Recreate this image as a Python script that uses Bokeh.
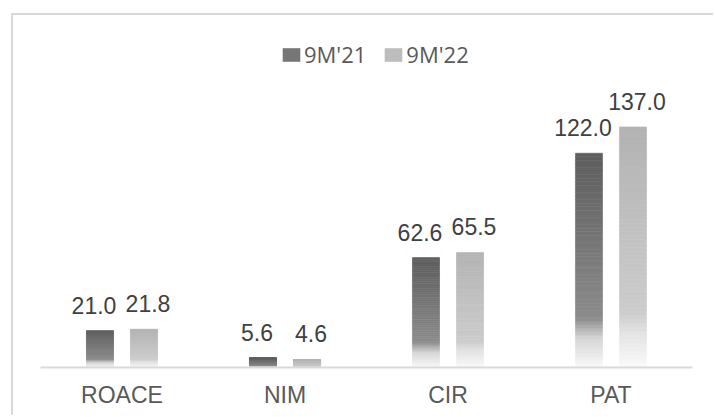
from bokeh.plotting import figure
from bokeh.models import (ColumnDataSource, FixedTicker, Range1d, Legend, LegendItem,
                          LabelSet)
from bokeh.core.properties import value
from bokeh.embed import file_html
from bokeh.resources import INLINE

categories = ["ROACE", "NIM", "CIR", "PAT"]
series_names = ["9M'21", "9M'22"]
values_21 = [21.0, 5.6, 62.6, 122.0]
values_22 = [21.8, 4.6, 65.5, 137.0]
label_21 = ["21.0", "5.6", "62.6", "122.0"]
label_22 = ["21.8", "4.6", "65.5", "137.0"]

# gradient stops: (fraction from top, grey level)
dark_stops = [(0.0, 94), (0.77, 140), (0.86, 212), (1.0, 250)]
light_stops = [(0.0, 179), (0.77, 204), (0.86, 228), (1.0, 250)]

def grey_at(stops, t):
    for (t0, g0), (t1, g1) in zip(stops[:-1], stops[1:]):
        if t <= t1:
            f = (t - t0) / (t1 - t0) if t1 > t0 else 0
            g = int(round(g0 + f * (g1 - g0)))
            return "#%02x%02x%02x" % (g, g, g)
    g = stops[-1][1]
    return "#%02x%02x%02x" % (g, g, g)

N = 60
OFF = 0.135
W = 0.166

def slices(vals, offset, stops):
    left, right, bottom, top, color = [], [], [], [], []
    for i, v in enumerate(vals):
        cx = i + 0.5 + offset
        for k in range(N):
            b = v * k / N
            t = v * (k + 1) / N
            frac_from_top = 1 - (k + 0.5) / N
            left.append(cx - W / 2)
            right.append(cx + W / 2)
            bottom.append(b)
            top.append(t)
            color.append(grey_at(stops, frac_from_top))
    return dict(left=left, right=right, bottom=bottom, top=top, color=color)

p = figure(width=702, height=402, output_backend="svg", toolbar_location=None,
           x_range=Range1d(0, 4), y_range=Range1d(0, 186.2),
           min_border_left=27, min_border_right=23, min_border_top=25,
           min_border_bottom=50, background_fill_color="white",
           border_fill_color="white", outline_line_color=None)
p.margin = (13, 0, 0, 11)
p.styles = {"border-left": "2px solid #d9d9d9", "border-top": "2px solid #d9d9d9"}

for vals, off, stops in [(values_21, -OFF, dark_stops), (values_22, OFF, light_stops)]:
    src = ColumnDataSource(slices(vals, off, stops))
    p.quad(left="left", right="right", bottom="bottom", top="top", source=src,
           fill_color="color", line_color="color", line_width=0.6)

# legend proxies (not visible in the plot area)
nan = float("nan")
r1 = p.quad(left=[nan], right=[nan], bottom=[nan], top=[nan], fill_color="#767676", line_color=None)
r2 = p.quad(left=[nan], right=[nan], bottom=[nan], top=[nan], fill_color="#bdbdbd", line_color=None)
legend = Legend(items=[LegendItem(label=series_names[0], renderers=[r1]),
                       LegendItem(label=series_names[1], renderers=[r2])],
                orientation="horizontal", location=(240, 298),
                glyph_width=22, glyph_height=17, label_standoff=2, spacing=16,
                padding=0, margin=0, border_line_color=None, background_fill_alpha=0,
                label_text_font="Open Sans", label_text_font_size="22px",
                label_text_color="#595959")
p.add_layout(legend)

lab_src1 = ColumnDataSource(dict(x=[i + 0.5 - OFF for i in range(4)], y=values_21, t=label_21))
lab_src2 = ColumnDataSource(dict(x=[i + 0.5 + OFF for i in range(4)], y=values_22, t=label_22))
for src, xo in [(lab_src1, -6), (lab_src2, 4)]:
    p.add_layout(LabelSet(x="x", y="y", text="t", source=src, x_offset=xo, y_offset=17,
                          text_align="center", text_baseline="alphabetic",
                          text_font=value("Liberation Sans"), text_font_size=value("23px"),
                          text_color="#404040"))

p.xaxis.ticker = FixedTicker(ticks=[0.5, 1.5, 2.5, 3.5])
p.xaxis.major_label_overrides = {0.5: "ROACE", 1.5: "NIM", 2.5: "CIR", 3.5: "PAT"}
p.xaxis.major_tick_line_color = None
p.xaxis.minor_tick_line_color = None
p.xaxis.axis_line_color = "#d9d9d9"
p.xaxis.axis_line_width = 2
p.xaxis.major_label_text_font = "Liberation Sans"
p.xaxis.major_label_text_font_size = "23px"
p.xaxis.major_label_text_color = "#595959"
p.xaxis.major_label_standoff = 8
p.yaxis.visible = False
p.xgrid.visible = False
p.ygrid.visible = False

open("out.html", "w").write(file_html(p, INLINE))
